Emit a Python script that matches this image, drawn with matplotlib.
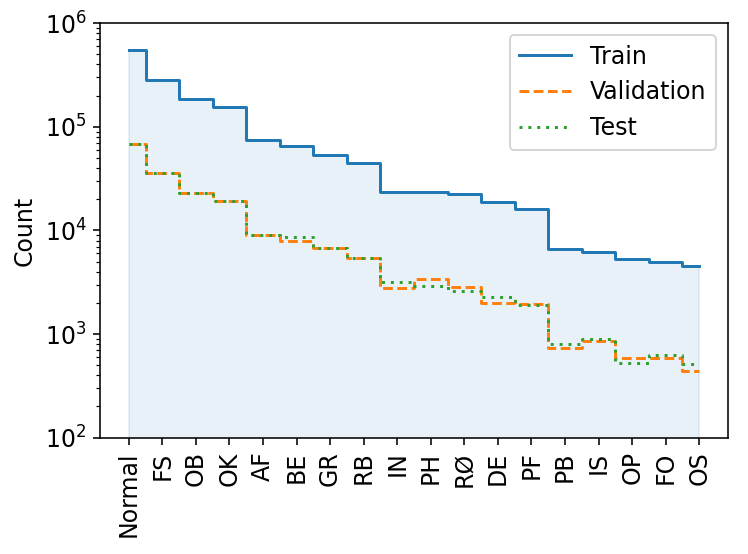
import numpy as np
import matplotlib
matplotlib.use("Agg")
import matplotlib.pyplot as plt

classes = ["Normal", "FS", "OB", "OK", "AF", "BE", "GR", "RB", "IN", "PH",
           "RØ", "DE", "PF", "PB", "IS", "OP", "FO", "OS"]

train = [548000, 286000, 184000, 154000, 74000, 66000, 54000, 45000, 23400,
         23300, 22400, 18800, 16000, 6600, 6200, 5250, 4940, 4520]
val = [68000, 35500, 23100, 19200, 8950, 7900, 6700, 5400, 2770,
       3390, 2830, 1990, 1960, 741, 859, 593, 585, 443]
test = [68000, 35500, 23100, 19200, 8950, 8600, 6700, 5400, 3170,
        2900, 2630, 2270, 1900, 809, 905, 527, 634, 516]

plt.rcParams['font.size'] = 12

fig, ax = plt.subplots(figsize=(748 / 142, 554 / 142), dpi=142)
x = np.arange(len(classes))

# shaded area under the train counts
ax.fill_between(x, train, 1, step='mid', color='C0', alpha=0.1)
ax.plot(x, train, drawstyle='steps-mid', color='C0', label='Train')
ax.plot(x, val, drawstyle='steps-mid', color='C1', linestyle=(0, (3.3, 1.5)),
        label='Validation')
ax.plot(x, test, drawstyle='steps-mid', color='C2', linestyle=(0, (1, 2)),
        label='Test')

ax.set_yscale('log')
ax.set_ylim(1e2, 1e6)
ax.set_xticks(x)
ax.set_xticklabels(classes, rotation=90)
ax.set_ylabel('Count')
ax.legend(loc='upper right', handlelength=2.2)

fig.subplots_adjust(left=0.134, right=0.973, top=0.958, bottom=0.21)
fig.savefig('out.png', dpi=142)
